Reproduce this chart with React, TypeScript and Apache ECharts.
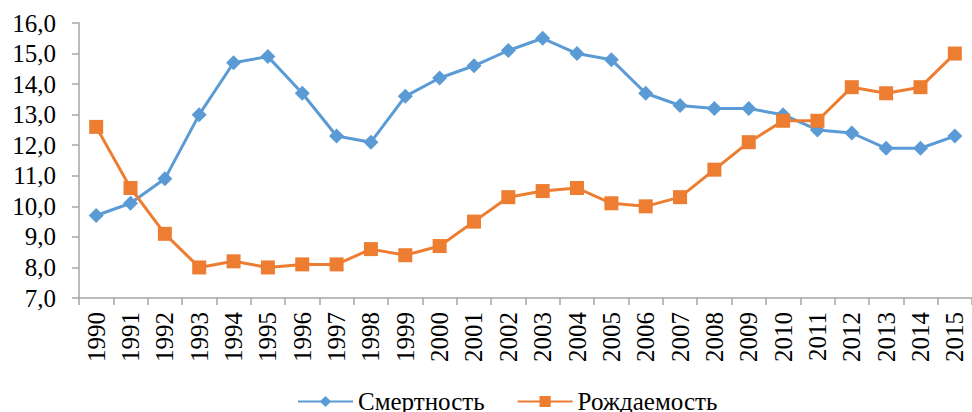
import React, { useEffect, useRef } from "react";
import * as echarts from "echarts";

const years = ["1990","1991","1992","1993","1994","1995","1996","1997","1998","1999","2000","2001","2002","2003","2004","2005","2006","2007","2008","2009","2010","2011","2012","2013","2014","2015"];
const mortality = [9.7, 10.1, 10.9, 13.0, 14.7, 14.9, 13.7, 12.3, 12.1, 13.6, 14.2, 14.6, 15.1, 15.5, 15.0, 14.8, 13.7, 13.3, 13.2, 13.2, 13.0, 12.5, 12.4, 11.9, 11.9, 12.3];
const birthRate = [12.6, 10.6, 9.1, 8.0, 8.2, 8.0, 8.1, 8.1, 8.6, 8.4, 8.7, 9.5, 10.3, 10.5, 10.6, 10.1, 10.0, 10.3, 11.2, 12.1, 12.8, 12.8, 13.9, 13.7, 13.9, 15.0];
const seriesNames = ["Смертность", "Рождаемость"];

const FONT = "Times New Roman, Liberation Serif, DejaVu Serif, serif";

export default function App() {
  const ref = useRef<HTMLDivElement>(null);
  useEffect(() => {
    if (!ref.current) return;
    const chart = echarts.init(ref.current, undefined, { renderer: "svg" });
    chart.setOption({
      animation: false,
      backgroundColor: "#ffffff",
      textStyle: { fontFamily: FONT },
      grid: { left: 79, right: -11, top: 23, bottom: 114, containLabel: false },
      legend: {
        data: seriesNames,
        left: 297,
        top: 389,
        padding: 0,
        itemWidth: 55,
        itemHeight: 14,
        itemGap: 32,
        textStyle: { fontFamily: FONT, fontSize: 25, color: "#000000" },
      },
      xAxis: {
        type: "category",
        data: years,
        boundaryGap: true,
        axisLine: { lineStyle: { color: "#a6a6a6", width: 1.5 } },
        axisTick: { show: true, length: 7, interval: 0, lineStyle: { color: "#a6a6a6", width: 1.5 } },
        axisLabel: {
          interval: 0,
          rotate: 90,
          margin: 14,
          fontFamily: FONT,
          fontSize: 25,
          color: "#000000",
        },
        splitLine: { show: false },
      },
      yAxis: {
        type: "value",
        min: 7,
        max: 16,
        interval: 1,
        axisLine: { show: true, lineStyle: { color: "#a6a6a6", width: 1.5 } },
        axisTick: { show: true, length: 7, lineStyle: { color: "#a6a6a6", width: 1.5 } },
        axisLabel: {
          margin: 23,
          fontFamily: FONT,
          fontSize: 25,
          color: "#000000",
          formatter: (v: number) => v.toFixed(1).replace(".", ","),
        },
        splitLine: { show: false },
      },
      series: [
        {
          name: seriesNames[0],
          type: "line",
          data: mortality,
          symbol: "diamond",
          symbolSize: 15,
          itemStyle: { color: "#5B9BD5" },
          lineStyle: { color: "#5B9BD5", width: 3 },
          z: 3,
        },
        {
          name: seriesNames[1],
          type: "line",
          data: birthRate,
          symbol: "rect",
          symbolSize: 14,
          itemStyle: { color: "#ED7D31" },
          lineStyle: { color: "#ED7D31", width: 3 },
          z: 4,
        },
      ],
    });
    return () => chart.dispose();
  }, []);
  return (
    <div
      ref={ref}
      style={{ position: "fixed", left: 0, top: 0, width: 972, height: 412, background: "#fff" }}
    />
  );
}
